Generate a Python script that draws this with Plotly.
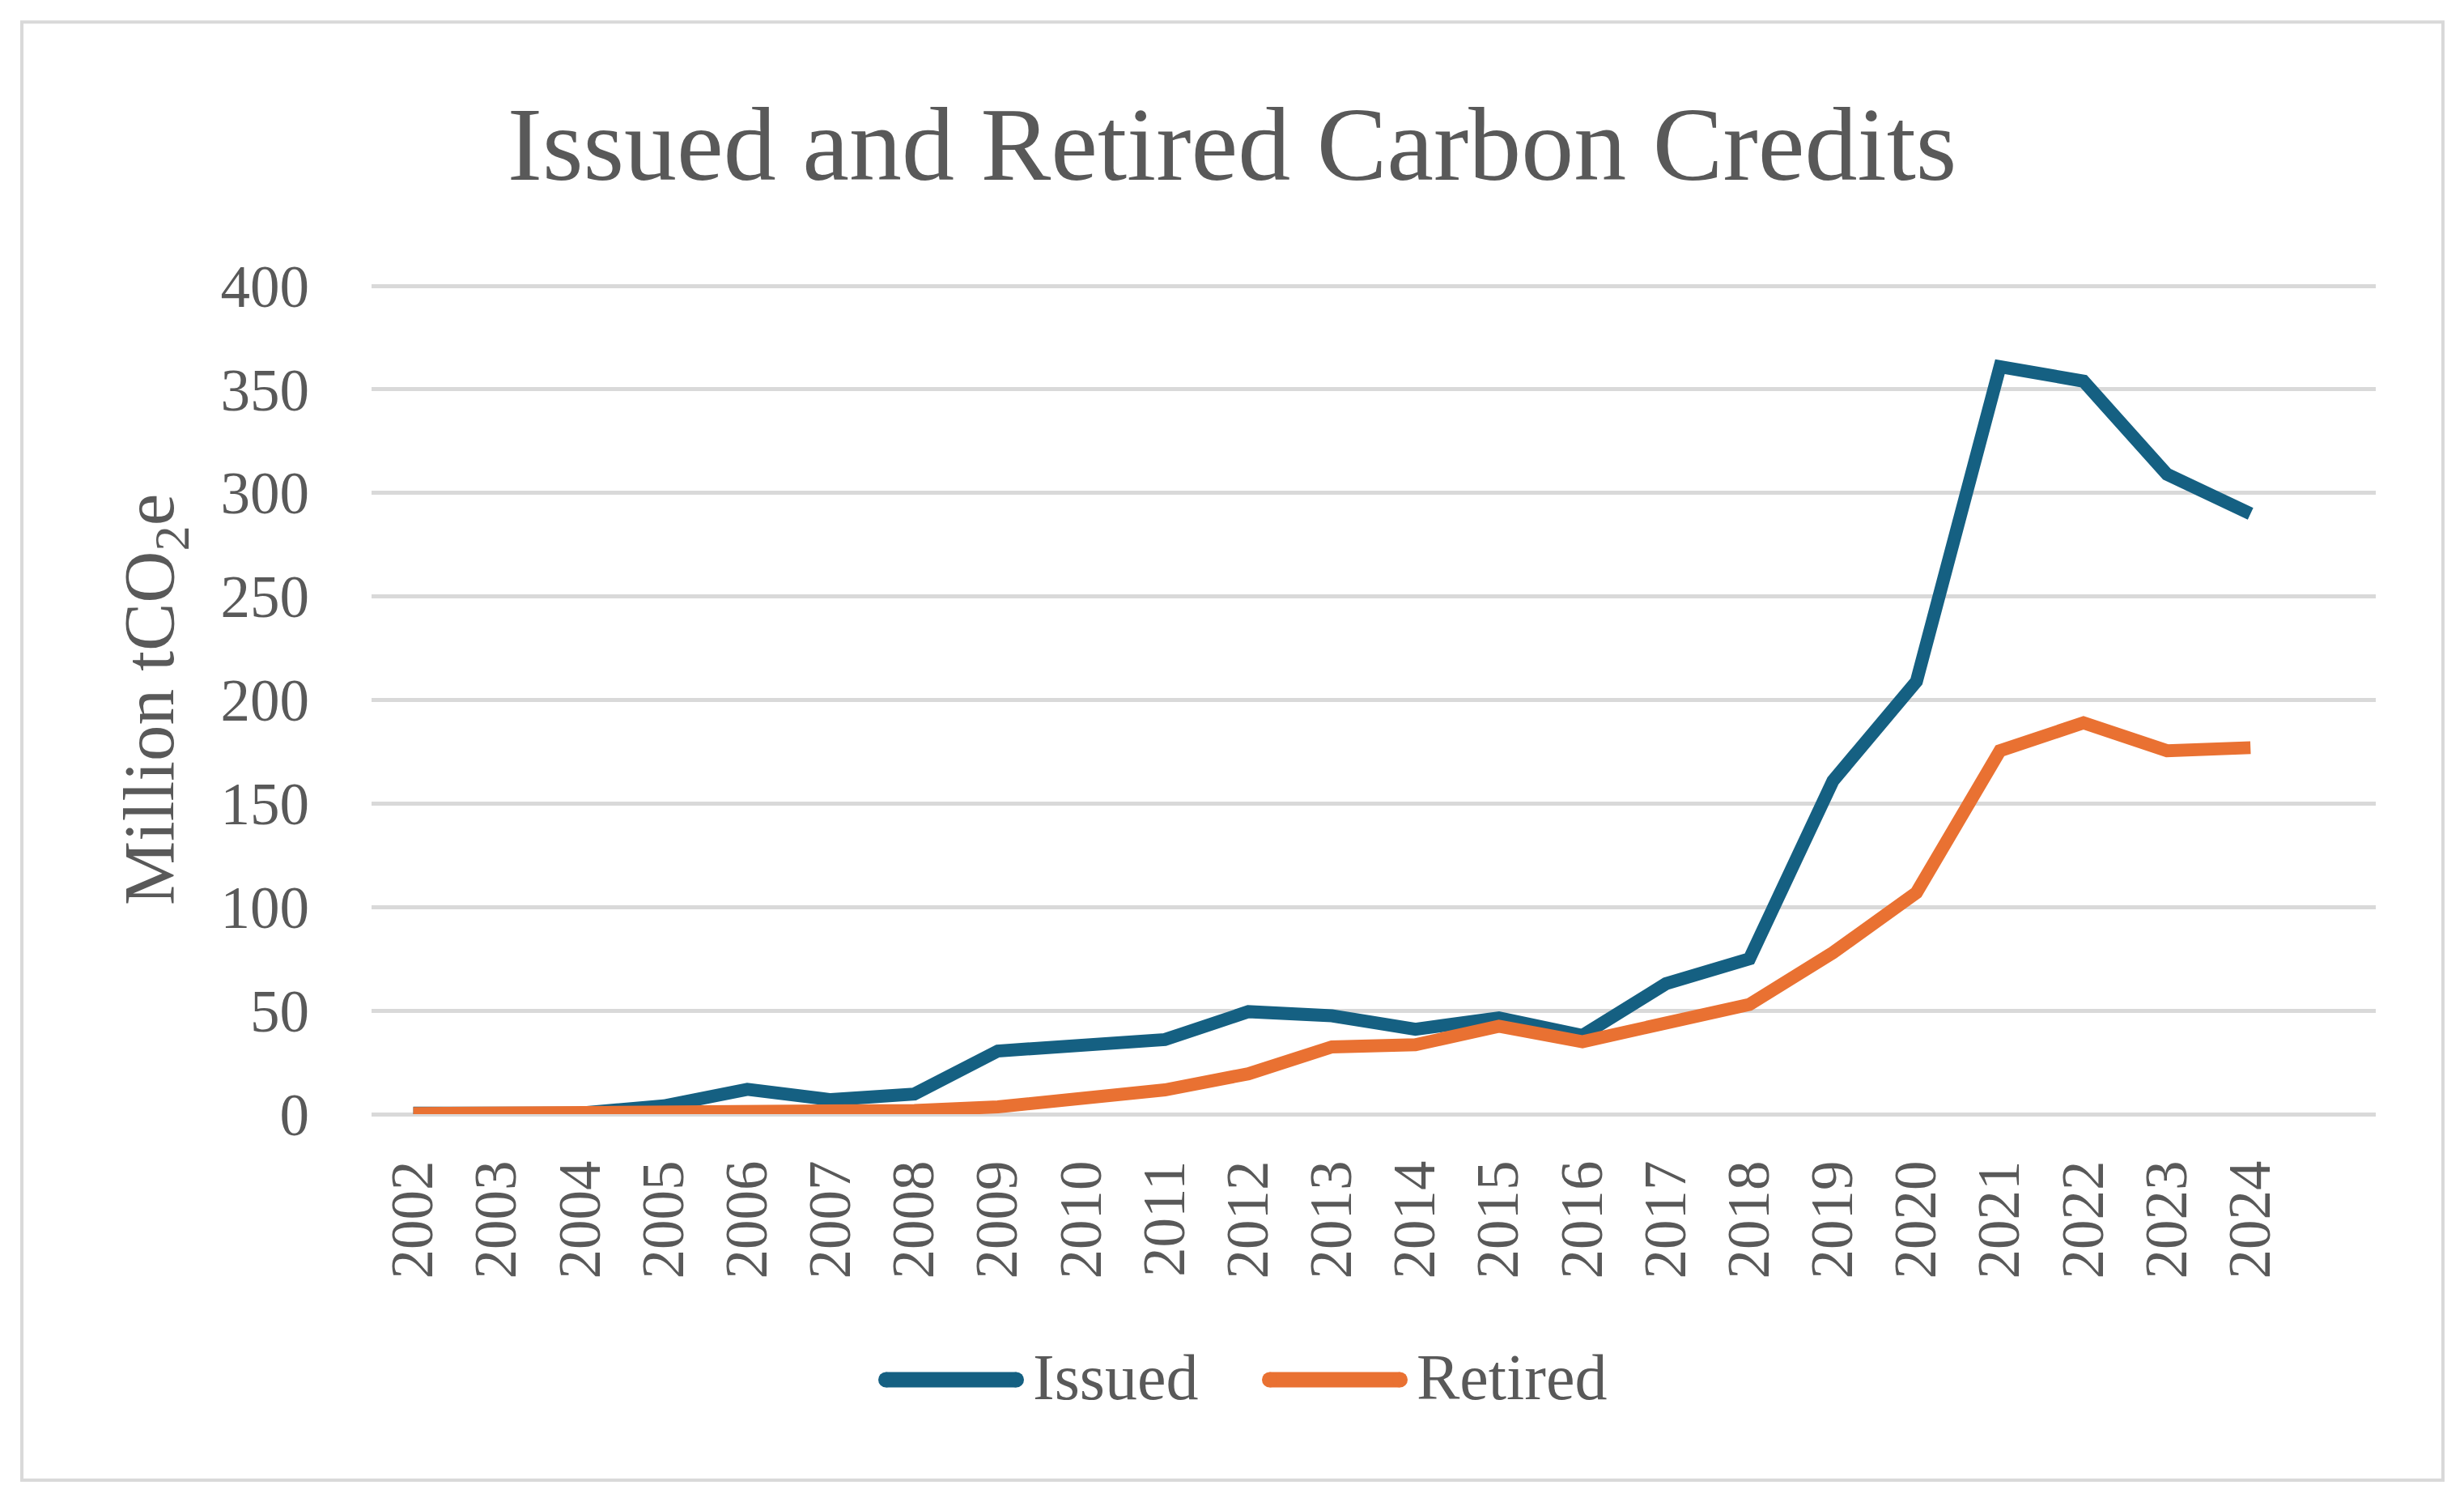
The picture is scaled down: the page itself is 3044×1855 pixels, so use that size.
import plotly.graph_objects as go

years = [str(y) for y in range(2002, 2025)]
issued = [0.5, 0.3, 0.5, 4, 12, 7, 9.7, 30.5, 33.5, 36, 49.5, 47.5, 41, 46.5, 38,
          63, 75, 161, 209, 361, 354, 309, 290]
retired = [0.3, 0.3, 0.5, 0.6, 0.7, 1.2, 1.8, 3.5, 7, 11.7, 19.5, 32.5, 33.5, 42.5, 35,
           44, 53, 78, 107, 175.5, 189, 175.5, 177]
series_names = ["Issued", "Retired"]
colors = ["#156082", "#E97132"]
title_text = "Issued and Retired Carbon Credits"
y_title = "Million tCO<sub>2</sub>e"
y_ticks = [0, 50, 100, 150, 200, 250, 300, 350, 400]
y_max = 402  # a little headroom so the 400 gridline is drawn

OFF = 8  # page body margin
W, H = 3044 - 2 * OFF, 1855 - 2 * OFF
# plot area in page coordinates (value 400 at y=353, value 0 at y=1376)
PX0, PX1, PY1 = 459, 2935, 1376
PY0 = PY1 - (PY1 - 353) * y_max / 400
L = PX0 - OFF
R = W - (PX1 - OFF)
T = PY0 - OFF
B = H - (PY1 - OFF)
pw, ph = W - L - R, H - T - B
FONT = "Liberation Serif"
TXT = "#595959"


def px(x):
    return (x - OFF - L) / pw


def py(y):
    return (H - B - (y - OFF)) / ph


fig = go.Figure()
for name, vals, col in zip(series_names, [issued, retired], colors):
    fig.add_trace(go.Scatter(x=years, y=vals, mode="lines", name=name,
                             line=dict(color=col, width=16), cliponaxis=False))

fig.update_layout(
    width=W, height=H,
    margin=dict(l=L, r=R, t=T, b=B),
    paper_bgcolor="white", plot_bgcolor="white",
    showlegend=False,
    font=dict(family=FONT, color=TXT),
    title=dict(text=title_text, x=0.5, xanchor="center", y=1 - (176 - OFF) / H,
               yanchor="middle", font=dict(family=FONT, size=130, color=TXT)),
)
fig.update_xaxes(type="category", categoryorder="array", categoryarray=years,
                 range=[-0.5, 23.5], showgrid=False, showline=False, zeroline=False,
                 ticks="", tickangle=-90, tickfont=dict(family=FONT, size=73, color=TXT),
                 ticklabelstandoff=42)
fig.update_yaxes(range=[0, y_max], tickvals=y_ticks, showgrid=True, gridcolor="#D9D9D9",
                 gridwidth=5, zeroline=True, zerolinecolor="#D9D9D9", zerolinewidth=5,
                 showline=False, ticks="", tickfont=dict(family=FONT, size=73, color=TXT),
                 ticklabelstandoff=76)

# y-axis title
fig.add_annotation(text=y_title, xref="paper", yref="paper", x=px(190), y=py(864),
                   xanchor="center", yanchor="middle", textangle=-90, showarrow=False,
                   font=dict(family=FONT, size=89, color=TXT))

# custom legend (line samples with round ends + labels)
line_y = py(1704)
text_y = py(1701)
lw = 19
leg = [(1085, 1265, 1274), (1559, 1739, 1748)]
for (x0, x1, xt), name, col in zip(leg, series_names, colors):
    r = lw / 2
    fig.add_shape(type="line", xref="paper", yref="paper", x0=px(x0 + r), x1=px(x1 - r),
                  y0=line_y, y1=line_y, line=dict(color=col, width=lw))
    for xc in (x0 + r, x1 - r):
        fig.add_shape(type="circle", xref="paper", yref="paper",
                      x0=px(xc - r), x1=px(xc + r), y0=py(1704 + r), y1=py(1704 - r),
                      fillcolor=col, line=dict(width=0))
    fig.add_annotation(text=name, xref="paper", yref="paper", x=px(xt), y=text_y,
                       xanchor="left", yanchor="middle", showarrow=False,
                       font=dict(family=FONT, size=80, color=TXT))

# chart border
fig.add_shape(type="rect", xref="paper", yref="paper", x0=px(27), x1=px(3018),
              y0=py(1828), y1=py(27), line=dict(color="#D9D9D9", width=4), layer="below")

fig.write_html("out.html")
